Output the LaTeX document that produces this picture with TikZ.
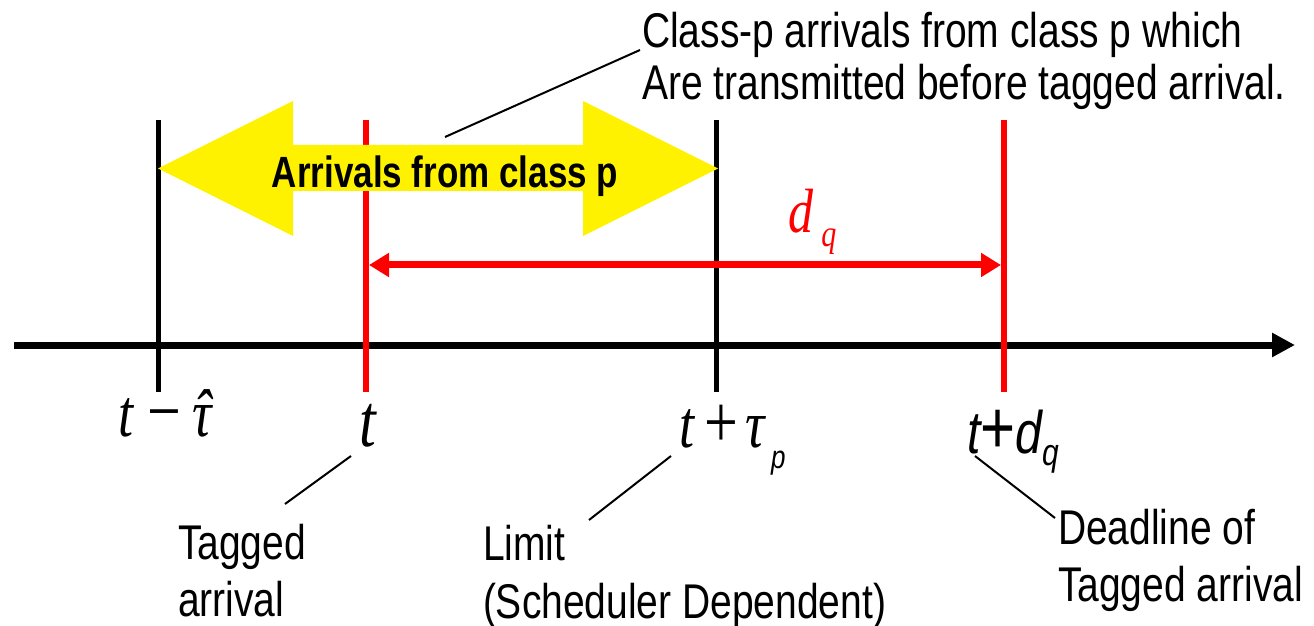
\documentclass[tikz,border=0pt]{standalone}
\usepackage{fontspec}
\usepackage{graphicx}
\setmainfont{Liberation Sans}
\newfontfamily\tms{Liberation Serif}
\newfontfamily\arl{Liberation Sans}
\usetikzlibrary{arrows.meta}
\newcommand{\vs}[1]{\scalebox{1}[1.25]{#1}}
\newcommand{\fsz}[1]{\fontsize{#1}{#1}\selectfont}
\newcommand{\hattau}{\ooalign{τ\cr\hidewidth ˆ\hidewidth\cr}}
\begin{document}
\begin{tikzpicture}[x=0.5pt,y=-0.5pt,
  lbl/.style={inner sep=0pt, outer sep=0pt, anchor=base west, font=\fontsize{19.5}{23.2}\selectfont},
  toplbl/.style={inner sep=0pt, outer sep=0pt, anchor=base west, font=\fontsize{19.5}{20.8}\selectfont},
  mathlbl/.style={inner sep=0pt, outer sep=0pt, anchor=base west},
  blkline/.style={line width=2.5pt, black},
  redline/.style={line width=3pt, red},
  leader/.style={line width=1pt, black},
  axisline/.style={line width=3.5pt, black, -{Triangle[length=11.5pt,width=11.5pt]}},
  dqarrow/.style={line width=3.5pt, red, {Triangle[length=10pt,width=11.5pt]}-{Triangle[length=10pt,width=11.5pt]}},
  bigarrow/.style={fill=yellow, draw=none}
]
\useasboundingbox (0,0) rectangle (1314,626);

% axis
\coordinate (ax0) at (14,345);
\coordinate (ax1) at (1295,345);
\draw[axisline] (ax0) -- (ax1);

% vertical markers
\coordinate (v1t) at (158,120); \coordinate (v1b) at (158,392);
\coordinate (v2t) at (366,120); \coordinate (v2b) at (366,392);
\coordinate (v3t) at (716,120); \coordinate (v3b) at (716,392);
\coordinate (v4t) at (1004,120); \coordinate (v4b) at (1004,392);
\draw[blkline] (v1t) -- (v1b);
\draw[redline] (v2t) -- (v2b);
\draw[blkline] (v3t) -- (v3b);
\draw[redline] (v4t) -- (v4b);

% yellow double arrow
\fill[bigarrow] (158,168.5) -- (293,101) -- (293,145) -- (583,145) -- (583,101)
  -- (718,168.5) -- (583,236) -- (583,191) -- (293,191) -- (293,236) -- cycle;
\node[inner sep=0pt, anchor=base, font=\bfseries\fontsize{17.5}{20}\selectfont] (arr) at (445,188) {\vs{Arrivals from class p}};

% d_q arrow
\coordinate (dq0) at (369,265);
\coordinate (dq1) at (1001,265);
\draw[dqarrow] (dq0) -- (dq1);
\node[mathlbl, text=red] (dq) at (788,233) {\vs{\fsz{25}\tms\itshape d\,\raisebox{-5.6pt}{\fsz{15}q}}};

% top note
\node[toplbl] (note) at (642,48) {\vs{\begin{tabular}[t]{@{}l@{}}Class-p arrivals from class p which\\Are transmitted before tagged arrival.\end{tabular}}};
\coordinate (n0) at (445,137);
\coordinate (n1) at (640,50);
\draw[leader] (n0) -- (n1);

% axis labels
\node[mathlbl] (l1) at (118,437) {\vs{\fsz{27}\tms\itshape t\hspace{7pt}{\upshape\fsz{30}−}\hspace{6pt}\hattau}};
\node[mathlbl] (l2) at (359,446) {\vs{\fsz{30}\tms\itshape t}};
\node[mathlbl] (l3) at (679,447) {\vs{\fsz{27}\tms\itshape t\hspace{5pt}{\upshape\fsz{30}+}\hspace{4pt}τ\hspace{3pt}\raisebox{-8.4pt}{\fsz{13}\arl\itshape p}}};
\node[mathlbl] (l4) at (967,453) {\vs{\fsz{24}\arl\itshape t{\upshape\fsz{30}+}d\raisebox{-5pt}{\fsz{15}q}}};

% bottom labels
\node[lbl] (tag) at (178,559) {\vs{\begin{tabular}[t]{@{}l@{}}Tagged\\arrival\end{tabular}}};
\node[lbl] (lim) at (483,560) {\vs{\begin{tabular}[t]{@{}l@{}}Limit\\(Scheduler Dependent)\end{tabular}}};
\node[lbl] (dead) at (1058,544) {\vs{\begin{tabular}[t]{@{}l@{}}Deadline of\\Tagged arrival\end{tabular}}};

% leaders
\coordinate (a0) at (351,456); \coordinate (a1) at (285,504);
\coordinate (b0) at (671,456); \coordinate (b1) at (589,520);
\coordinate (c0) at (975,456); \coordinate (c1) at (1055,518);
\draw[leader] (a0) -- (a1);
\draw[leader] (b0) -- (b1);
\draw[leader] (c0) -- (c1);
\end{tikzpicture}
\end{document}
